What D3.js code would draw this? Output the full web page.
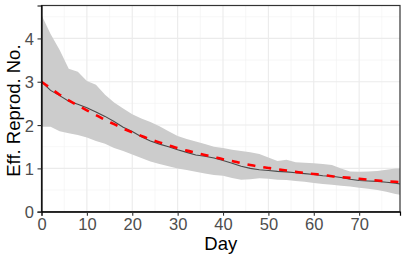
<!DOCTYPE html>
<html><head><meta charset="utf-8">
<script src="https://cdn.jsdelivr.net/npm/d3@7"></script>
<style>body{margin:0;background:#fff}svg{display:block}text{font-family:"Liberation Sans",Arial,Helvetica,sans-serif}</style>
</head><body>
<svg id="c" width="407" height="260"></svg>
<script>
const days = [0,2,4,6,8,10,12,14,16,18,20,22,24,26,28,30,32,34,36,38,40,42,44,46,48,50,52,54,56,58,60,62,64,66,68,70,72,74,76,78,79];
const upper = [4.54,4.1,3.73,3.3,3.23,3.02,2.93,2.7,2.52,2.38,2.25,2.15,2.07,1.97,1.86,1.75,1.68,1.62,1.56,1.5,1.47,1.43,1.4,1.37,1.33,1.25,1.17,1.2,1.14,1.13,1.12,1.1,1.08,1.0,0.93,0.92,0.93,0.94,0.97,1.0,1.0];
const lower = [1.96,1.96,1.86,1.81,1.77,1.71,1.63,1.57,1.47,1.4,1.32,1.24,1.16,1.1,1.05,1.0,0.96,0.92,0.88,0.85,0.83,0.78,0.74,0.75,0.77,0.76,0.74,0.73,0.71,0.69,0.66,0.64,0.62,0.6,0.58,0.55,0.53,0.5,0.46,0.41,0.39];
const estimate = [3.0,2.8,2.68,2.55,2.48,2.4,2.3,2.2,2.08,1.95,1.85,1.73,1.63,1.56,1.5,1.43,1.37,1.31,1.28,1.24,1.18,1.12,1.05,1.0,0.97,0.95,0.93,0.92,0.9,0.88,0.86,0.83,0.82,0.79,0.75,0.72,0.71,0.7,0.68,0.66,0.64];
const fitted = [3.0,2.85,2.7,2.57,2.45,2.34,2.23,2.12,2.02,1.92,1.83,1.75,1.67,1.6,1.53,1.47,1.41,1.36,1.31,1.26,1.21,1.17,1.12,1.08,1.04,1.01,0.98,0.95,0.92,0.89,0.87,0.85,0.82,0.8,0.78,0.76,0.74,0.72,0.7,0.69,0.68];
const xTicks = [0,10,20,30,40,50,60,70];
const xMinor = [5,15,25,35,45,55,65,75];
const yTicks = [0,1,2,3,4];
const yMinor = [0.5,1.5,2.5,3.5,4.5];

const svg = d3.select("#c");
const L = 41.5, R = 400, T = 5.5, B = 211.7;
const x = d3.scaleLinear().domain([0,79]).range([L,R]);
const y = d3.scaleLinear().domain([0,4.76]).range([B,T]);

const g = svg.append("g");
// grid
g.selectAll(".xm").data(xMinor).join("line").attr("x1",d=>x(d)).attr("x2",d=>x(d)).attr("y1",T).attr("y2",B).attr("stroke","#f2f2f2").attr("stroke-width",0.6);
g.selectAll(".ym").data(yMinor).join("line").attr("y1",d=>y(d)).attr("y2",d=>y(d)).attr("x1",L).attr("x2",R).attr("stroke","#f2f2f2").attr("stroke-width",0.6);
g.selectAll(".xg").data(xTicks).join("line").attr("x1",d=>x(d)).attr("x2",d=>x(d)).attr("y1",T).attr("y2",B).attr("stroke","#ebebeb").attr("stroke-width",1.1);
g.selectAll(".yg").data(yTicks).join("line").attr("y1",d=>y(d)).attr("y2",d=>y(d)).attr("x1",L).attr("x2",R).attr("stroke","#ebebeb").attr("stroke-width",1.1);

const idx = d3.range(days.length);
// ribbon
g.append("path").datum(idx)
  .attr("d", d3.area().x(i=>x(days[i])).y0(i=>y(lower[i])).y1(i=>y(upper[i])))
  .attr("fill","#cccccc");
// estimate line
g.append("path").datum(idx)
  .attr("d", d3.line().x(i=>x(days[i])).y(i=>y(estimate[i])))
  .attr("fill","none").attr("stroke","#4a4a4a").attr("stroke-width",1.1);
// fitted dashed line
g.append("path").datum(idx)
  .attr("d", d3.line().curve(d3.curveMonotoneX).x(i=>x(days[i])).y(i=>y(fitted[i])))
  .attr("fill","none").attr("stroke","#ff0000").attr("stroke-width",2.6).attr("stroke-dasharray","8,8");

// panel border
svg.append("rect").attr("x",L).attr("y",T).attr("width",R-L).attr("height",B-T)
  .attr("fill","none").attr("stroke","#333").attr("stroke-width",1.2);

// axes
const xa = svg.append("g").attr("transform",`translate(0,${B})`)
  .call(d3.axisBottom(x).tickValues(xTicks).tickSize(4).tickPadding(3).tickFormat(d3.format("d")));
const ya = svg.append("g").attr("transform",`translate(${L},0)`)
  .call(d3.axisLeft(y).tickValues(yTicks).tickSize(4).tickPadding(3.5).tickFormat(d3.format("d")));
[xa,ya].forEach(a=>{
  a.select(".domain").attr("stroke","#000").attr("stroke-width",1.2);
  a.selectAll(".tick line").attr("stroke","#333").attr("stroke-width",1.1);
  a.selectAll(".tick text").attr("fill","#4d4d4d").style("font-size","16.5px");
});
xa.selectAll(".tick text").attr("y",18.3).attr("dy","0");
ya.selectAll(".tick text").attr("dy","0.36em");

svg.append("text").attr("x",(L+R)/2).attr("y",249.5).attr("text-anchor","middle")
  .style("font-size","18.5px").attr("fill","#000").text("Day");
svg.append("text").attr("transform",`translate(20,${(T+B)/2+2}) rotate(-90)`).attr("text-anchor","middle")
  .style("font-size","18.5px").attr("fill","#000").text("Eff. Reprod. No.");
</script>
</body></html>
